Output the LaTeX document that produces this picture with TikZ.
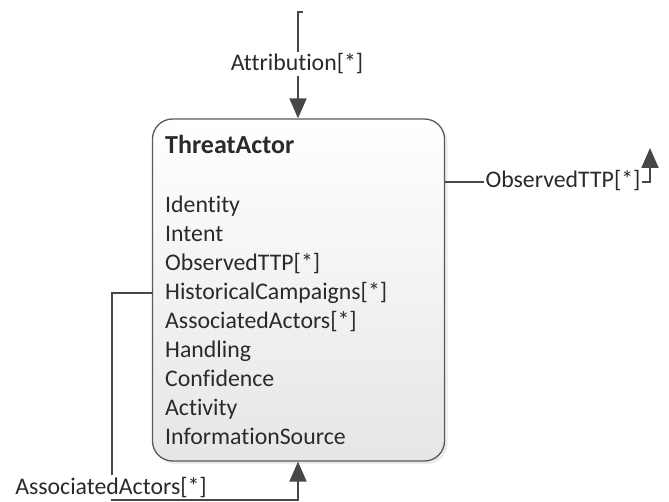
\documentclass[tikz,border=0pt]{standalone}
\usepackage{fontspec}
\setmainfont{Carlito}[Ligatures=NoCommon]
\usetikzlibrary{arrows.meta,shadows}
\definecolor{linegray}{HTML}{474747}
\definecolor{txtgray}{HTML}{2A2A2A}
\definecolor{boxgray}{HTML}{5A5A5A}
\definecolor{boxbottom}{HTML}{E6E6E6}
\begin{document}
\begin{tikzpicture}[x=1pt,y=-1pt,
  conn/.style={draw=linegray,line width=2pt},
  tip/.style={-{Triangle[width=17pt,length=20pt]}},
  txtfont/.style={font=\fontsize{23.8}{28}\selectfont},
  lbl/.style={txtfont,fill=white,inner sep=1.5pt,text=txtgray,anchor=base},
  item/.style={txtfont,anchor=base west,inner sep=0pt,text=txtgray},
  classbox/.style={draw=boxgray,line width=1.3pt,rounded corners=20pt,
    minimum width=292pt,minimum height=342pt,inner sep=0pt,
    top color=white,bottom color=boxbottom,
    drop shadow={shadow xshift=3pt,shadow yshift=-3pt,opacity=0.15}}
]
\useasboundingbox (0,0) rectangle (669,502);

% class box
\node[classbox] (ta) at (298.5,290) {};
\node[item,font=\bfseries\fontsize{26}{30}\selectfont] (title) at (165,154) {ThreatActor};
\node[item] (i1) at (165,213.0) {Identity};
\node[item] (i2) at (165,241.9) {Intent};
\node[item] (i3) at (165,270.8) {ObservedTTP[*]};
\node[item] (i4) at (165,299.7) {HistoricalCampaigns[*]};
\node[item] (i5) at (165,328.6) {AssociatedActors[*]};
\node[item] (i6) at (165,357.5) {Handling};
\node[item] (i7) at (165,386.4) {Confidence};
\node[item] (i8) at (165,415.3) {Activity};
\node[item] (i9) at (165,444.2) {InformationSource};

% connector coordinates
\coordinate (a0) at (303,12);
\coordinate (a1) at (298,12);
\coordinate (o0) at (445,182);
\coordinate (o1) at (650,182);
\coordinate (o2) at (650,148);
\coordinate (h0) at (153,293);
\coordinate (h1) at (112,293);
\coordinate (h2) at (112,500);
\coordinate (h3) at (298,500);

% connectors
\draw[conn,tip] (a0) -- (a1) -- (a1 |- ta.north);
\draw[conn,tip] (o0) -- (o1) -- (o2);
\draw[conn,tip] (h0) -- (h1) -- (h2) -- (h3) -- (h3 |- ta.south);

% connector labels
\node[lbl] (lattr) at (297,71) {Attribution[*]};
\node[lbl] (lobs) at (563,188) {ObservedTTP[*]};
\node[lbl] (lassoc) at (111,494) {AssociatedActors[*]};
\end{tikzpicture}
\end{document}
